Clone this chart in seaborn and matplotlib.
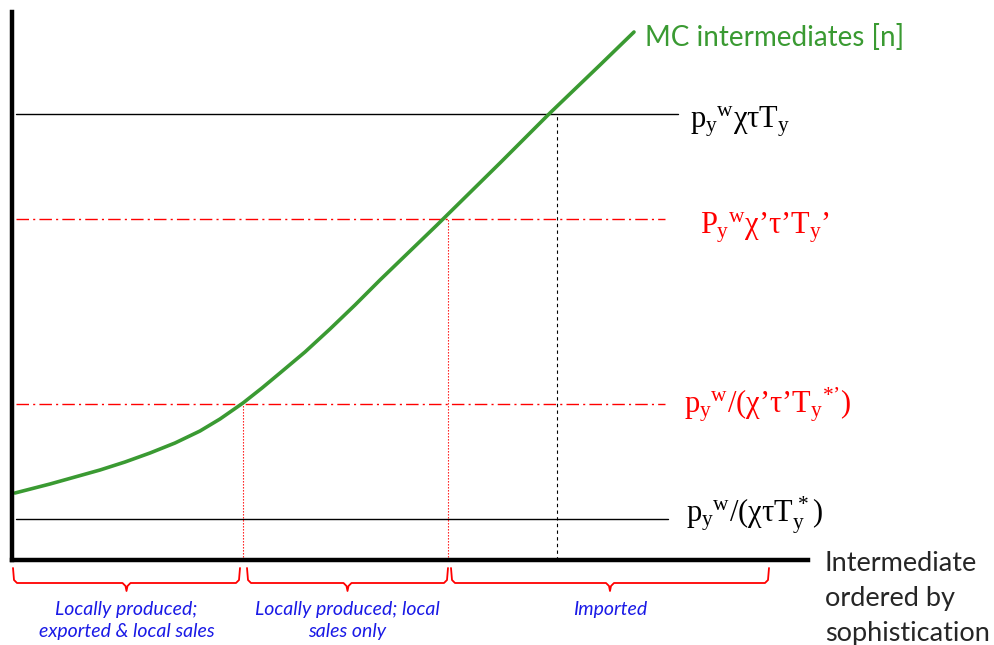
import numpy as np
import pandas as pd
import matplotlib
matplotlib.use("Agg")
import matplotlib.pyplot as plt
import seaborn as sns

# schematic values (x = sophistication, y = marginal cost)
curve_x = [3, 38, 63, 88, 113, 138, 163, 188, 208, 231, 250, 268, 293, 318,
           343, 368, 425, 488, 538, 588, 622]
curve_y = [67, 76, 83, 90, 98, 107, 117, 129, 141, 157, 172, 187, 208, 231,
           255, 280, 335, 397, 447, 495, 528]

level_y = [446, 341, 156, 41]
level_x_end = [666, 653, 653, 656]
level_kind = ['solid', 'dashdot', 'dashdot', 'solid']
level_color = ['black', 'red', 'red', 'black']
level_labels = [r'$p_y{}^w χτT_y$',
                r'$P_y{}^w χ’τ’T_y’$',
                r'$p_y{}^w/(χ’τ’T_y{}^{*’})$',
                r'$p_y{}^w/(χτT^*_y)$']
label_x = [678, 688, 672, 674]
label_y = [438, 332, 155, 45]

cutoff_x = [231, 436, 545]
cutoff_top = [156, 341, 446]
cutoff_color = ['red', 'red', 'black']

brace_start = [1, 235, 439]
brace_end = [228, 436, 757]
brace_text = ['Locally produced;\nexported & local sales',
              'Locally produced; local\nsales only',
              'Imported']

sns.set_style("white")
plt.rcParams['font.family'] = ['Lato', 'DejaVu Sans']
plt.rcParams['mathtext.fontset'] = 'custom'
plt.rcParams['mathtext.rm'] = 'Liberation Serif'
plt.rcParams['mathtext.it'] = 'Liberation Serif'

fig = plt.figure(figsize=(9.95, 6.45), dpi=100)
ax = fig.add_axes([12 / 995, 85 / 645, 796 / 995, 548 / 645])
ax.set_xlim(0, 796)
ax.set_ylim(0, 548)

green = '#3A9A32'

# horizontal price levels
for y, xe, k, c in zip(level_y, level_x_end, level_kind, level_color):
    ls = '-' if k == 'solid' else (0, (9, 3, 1.5, 3))
    ax.plot([4, xe], [y, y], color=c, lw=1.0, ls=ls)

# vertical cutoffs
for x, top, c in zip(cutoff_x, cutoff_top, cutoff_color):
    ls = (0, (1.2, 1.5)) if c == 'red' else (0, (3, 3))
    ax.plot([x, x], [0, top], color=c, lw=0.8, ls=ls)

df = pd.DataFrame({'x': curve_x, 'y': curve_y})
sns.lineplot(data=df, x='x', y='y', color=green, lw=2.6, ax=ax, sort=False)

for lab, x, y, c in zip(level_labels, label_x, label_y, level_color):
    ax.text(x, y, lab, color=c, fontsize=22, ha='left', va='center')

ax.text(633, 523, 'MC intermediates [n]', color=green, fontsize=20,
        ha='left', va='center')

# braces under the axis
for a, b, t in zip(brace_start, brace_end, brace_text):
    c = (a + b) / 2
    bx = [a, a + 1, a + 4, c - 4, c - 1, c, c + 1, c + 4, b - 4, b - 1, b]
    by = [-8, -20, -23, -23, -26, -31, -26, -23, -23, -20, -8]
    ax.plot(bx, by, color='red', lw=1.3, clip_on=False)
    ax.text(c, -41, t, color='#1A1AE6', fontsize=14, style='italic',
            ha='center', va='top', linespacing=1.36)

ax.text(813, 9, 'Intermediate\nordered by\nsophistication', fontsize=19.5,
        ha='left', va='top', linespacing=1.5)

sns.despine(ax=ax)
for s in ['left', 'bottom']:
    ax.spines[s].set_linewidth(3.2)
    ax.spines[s].set_color('black')
ax.set_xticks([])
ax.set_yticks([])
ax.set_xlabel('')
ax.set_ylabel('')

fig.savefig('out.png', dpi=100)
